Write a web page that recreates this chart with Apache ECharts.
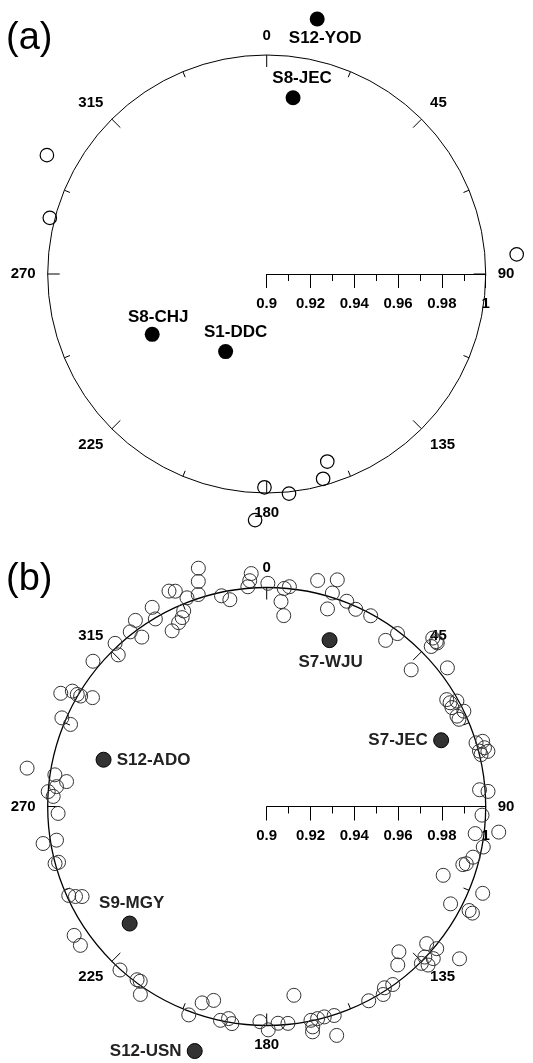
<!DOCTYPE html>
<html>
<head>
<meta charset="utf-8">
<script src="https://cdn.jsdelivr.net/npm/echarts@6/dist/echarts.min.js"></script>
<style>
  html, body { margin: 0; padding: 0; background: #fff; }
  #chart { width: 533px; height: 1063px; }
</style>
</head>
<body>
<div id="chart"></div>
<script>
// tick labels
const angleTickLabels = [0, 45, 90, 135, 180, 225, 270, 315]
const radiusTickLabels = [0.9, 0.92, 0.94, 0.96, 0.98, 1]

// (a) labelled sites (filled) -- angle in degrees, radius 0.9..1
const aSiteNames = ['S12-YOD', 'S8-JEC', 'S8-CHJ', 'S1-DDC']
const aSiteAngle = [11.2, 8.5, 242.2, 207.9]
const aSiteRadius = [1.0187, 0.9814, 0.9591, 0.9401]
// (a) other sites (open)
const aOpenAngle = [298.4, 284.5, 85.5, 162.1, 164.6, 180.6, 174.2, 182.7]
const aOpenRadius = [1.0141, 1.0023, 1.0145, 0.990, 0.997, 0.9974, 1.0008, 1.0125]

// (b) labelled sites (filled)
const bSiteNames = ['S7-WJU', 'S7-JEC', 'S12-ADO', 'S9-MGY', 'S12-USN']
const bSiteAngle = [20.7, 69.2, 286.0, 229.5, 196.4]
const bSiteRadius = [0.9812, 0.9852, 0.9775, 0.9823, 1.0164]
// (b) other sites (open)
const bOpenAngle = [
  344.0, 343.1, 335.6, 337.0, 339.1, 337.0, 335.9, 334.4, 331.7, 330.1,
  329.3, 324.8, 322.0, 323.6, 317.1, 315.6, 309.9, 342.1, 347.9, 349.9,
  356.2, 355.7, 355.1, 0.3, 4.6, 5.9, 4.0, 5.1, 12.7, 17.3,
  17.1, 17.1, 21.3, 24.3, 28.6, 35.6, 37.1, 44.6, 45.8, 45.8,
  46.2, 46.6, 52.5, 59.3, 60.5, 61.0, 61.9, 64.2, 64.6, 65.6,
  73.1, 73.2, 75.4, 76.0, 74.9, 76.4, 85.5, 86.1, 92.3, 96.3,
  97.4, 100.6, 103.8, 106.0, 106.5, 111.3, 111.9, 117.9, 117.2, 117.4,
  130.6, 129.9, 132.4, 133.6, 135.4, 134.5, 137.7, 140.4, 128.3, 144.7,
  147.0, 148.2, 152.3, 171.8, 162.1, 164.7, 166.5, 168.3, 168.2, 168.5,
  163.0, 174.4, 177.0, 181.8, 179.6, 192.2, 190.2, 189.1, 198.2, 195.3,
  200.5, 216.8, 215.9, 213.9, 221.9, 236.2, 233.3,
  298.8, 300.7, 300.6, 300.7, 302.0, 293.4, 292.7, 279.1, 278.5, 277.1,
  275.4, 273.9, 272.7, 268.1, 260.6, 260.9, 254.9, 255.0, 245.8, 244.8, 244.0
]
const bOpenRadius = [
  1.0132, 1.0074, 1.0080, 1.0068, 1.0020, 0.9970, 0.9945, 0.9931, 0.9911, 1.0049,
  0.9996, 1.0040, 1.0012, 0.9961, 1.0017, 0.9969, 1.0034, 1.0017, 0.9984, 0.9959,
  1.0066, 1.0034, 1.0007, 1.0019, 0.9999, 1.0009, 0.9938, 0.9875, 1.0058, 1.0084,
  1.0020, 0.9944, 1.0006, 0.9988, 0.9992, 0.9933, 0.9990, 1.0080, 1.0080, 1.0048,
  1.0079, 0.9908, 1.0040, 0.9956, 0.9962, 0.9993, 0.9959, 1.0000, 0.9962, 0.9964,
  0.9999, 1.0030, 1.0004, 1.0041, 1.0030, 1.0007, 0.9975, 1.0013, 0.9984, 1.0066,
  0.9960, 1.0006, 0.9970, 0.9948, 0.9934, 0.9865, 1.0063, 0.9950, 1.0039, 1.0058,
  0.9962, 1.0012, 1.0030, 0.9997, 1.0006, 1.0033, 0.9897, 0.9939, 1.0122, 0.9996,
  0.9987, 1.0010, 1.0002, 0.9871, 1.0003, 0.9996, 0.9996, 0.9997, 1.0028, 1.0050,
  1.0093, 0.9995, 0.9991, 0.9983, 1.0020, 0.9999, 0.9984, 1.0004, 0.9944, 0.9918,
  1.0016, 0.9988, 0.9985, 1.0034, 1.0003, 1.0058, 1.0061,
  1.0073, 1.0032, 1.0005, 0.9988, 0.9938, 1.0019, 0.9971, 1.0108, 0.9978, 0.9921,
  0.9964, 1.0000, 0.9976, 0.9953, 1.0035, 0.9972, 1.0001, 0.9984, 0.9991, 0.9965, 0.9938
]

// where each site name sits relative to its dot
const siteLabelOffset = {
  'S12-YOD': [8, 19],
  'S8-JEC': [9, -19],
  'S8-CHJ': [6, -17],
  'S1-DDC': [10, -19],
  'S7-WJU': [1, 22],
  'S7-JEC': [-43, 0],
  'S12-ADO': [50, 1],
  'S9-MGY': [2, -20],
  'S12-USN': [-49, 0]
}

const FONT = '"Liberation Sans", Arial, sans-serif'
const CX = 266.7
const R = 219
const centers = [274, 806.5]

function openPoints (radii, angles) {
  return radii.map((r, i) => [r, angles[i]])
}

function sitePoints (names, radii, angles) {
  return names.map((n, i) => ({
    name: n,
    value: [radii[i], angles[i]],
    label: { offset: siteLabelOffset[n] }
  }))
}

const polar = []
const angleAxis = []
const radiusAxis = []
centers.forEach((cy, k) => {
  // data polar: 0 at top, clockwise
  polar.push({ center: [CX, cy], radius: R })
  angleAxis.push({
    polarIndex: 2 * k,
    type: 'value',
    min: 0,
    max: 360,
    interval: 45,
    startAngle: 90,
    clockwise: true,
    axisLine: { lineStyle: { color: '#000', width: k === 0 ? 1 : 1.3 } },
    axisTick: { inside: true, length: 12, lineStyle: { color: '#000', width: 1 } },
    minorTick: { show: true, splitNumber: 2, length: 6, lineStyle: { color: '#000', width: 1 } },
    axisLabel: {
      margin: 12,
      color: '#000',
      fontSize: 15,
      fontWeight: 'bold',
      fontFamily: FONT,
      formatter: v => angleTickLabels.includes(v) ? String(v) : ''
    },
    splitLine: { show: false },
    splitArea: { show: false }
  })
  radiusAxis.push({
    polarIndex: 2 * k,
    type: 'value',
    min: 0.9,
    max: 1,
    show: false,
    splitLine: { show: false }
  })
  // second polar only to draw the radius scale towards 90
  polar.push({ center: [CX, cy], radius: R })
  angleAxis.push({
    polarIndex: 2 * k + 1,
    type: 'value',
    min: 0,
    max: 360,
    startAngle: 0,
    show: false,
    splitLine: { show: false }
  })
  radiusAxis.push({
    polarIndex: 2 * k + 1,
    type: 'value',
    min: 0.9,
    max: 1,
    interval: 0.02,
    axisLine: { lineStyle: { color: '#000', width: 1 } },
    // negative lengths / margin put ticks and labels under the line
    axisTick: { length: -14, lineStyle: { color: '#000' } },
    minorTick: { show: true, splitNumber: 2, length: -7, lineStyle: { color: '#000' } },
    axisLabel: {
      margin: -37,
      color: '#000',
      fontSize: 15,
      fontWeight: 'bold',
      fontFamily: FONT,
      formatter: v => {
        const hit = radiusTickLabels.find(t => Math.abs(t - v) < 1e-6)
        return hit === undefined ? '' : String(hit)
      }
    },
    splitLine: { show: false },
    splitArea: { show: false }
  })
})

const siteLabel = {
  show: true,
  position: 'inside',
  formatter: '{b}',
  color: '#000',
  fontSize: 17,
  fontWeight: 'bold',
  fontFamily: FONT
}

const panelTitle = { fontSize: 38, fontWeight: 'normal', color: '#000', fontFamily: FONT }

const chart = echarts.init(document.getElementById('chart'))
chart.setOption({
  animation: false,
  backgroundColor: '#fff',
  title: [
    { text: '(a)', left: 6, top: 20, padding: 0, textStyle: panelTitle },
    { text: '(b)', left: 6, top: 561, padding: 0, textStyle: panelTitle }
  ],
  polar,
  angleAxis,
  radiusAxis,
  series: [
    {
      type: 'scatter',
      coordinateSystem: 'polar',
      polarIndex: 0,
      clip: false,
      symbolSize: 13.5,
      itemStyle: { color: 'rgba(0,0,0,0)', borderColor: '#000', borderWidth: 1.2, opacity: 1 },
      data: openPoints(aOpenRadius, aOpenAngle)
    },
    {
      type: 'scatter',
      coordinateSystem: 'polar',
      polarIndex: 0,
      clip: false,
      symbolSize: 15,
      itemStyle: { color: '#000', opacity: 1 },
      label: siteLabel,
      data: sitePoints(aSiteNames, aSiteRadius, aSiteAngle)
    },
    {
      type: 'scatter',
      coordinateSystem: 'polar',
      polarIndex: 2,
      clip: false,
      symbolSize: 14,
      itemStyle: { color: 'rgba(0,0,0,0)', borderColor: '#333', borderWidth: 1, opacity: 1 },
      data: openPoints(bOpenRadius, bOpenAngle)
    },
    {
      type: 'scatter',
      coordinateSystem: 'polar',
      polarIndex: 2,
      clip: false,
      symbolSize: 15,
      itemStyle: { color: '#333', borderColor: '#000', borderWidth: 1, opacity: 1 },
      label: Object.assign({}, siteLabel, { color: '#222' }),
      data: sitePoints(bSiteNames, bSiteRadius, bSiteAngle)
    }
  ]
})
</script>
</body>
</html>
